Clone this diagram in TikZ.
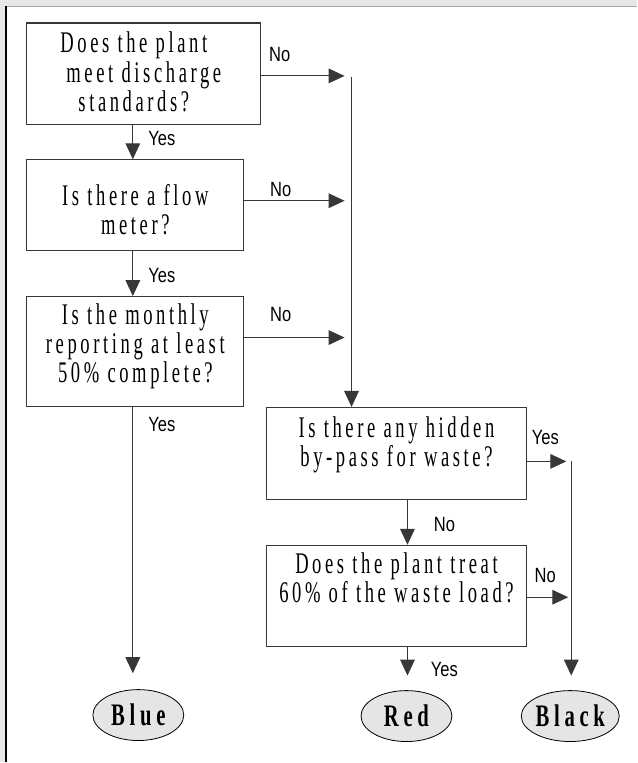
\documentclass[tikz,border=0pt]{standalone}
\usepackage{fontspec}
\setmainfont{Liberation Serif}
\newfontfamily\domandafont[FakeStretch=0.62,LetterSpace=12]{Liberation Serif}
\newfontfamily\esitofont[FakeStretch=0.66,LetterSpace=15]{Liberation Serif}
\newfontfamily\rispostafont[FakeStretch=0.8]{Liberation Sans}
\newcommand{\domande}{\domandafont\fontsize{22.5}{21.9}\selectfont}
\newcommand{\esiti}{\esitofont\bfseries\fontsize{23.5}{23.5}\selectfont}
\newcommand{\risposte}{\rispostafont\fontsize{15.5}{16}\selectfont}
\usetikzlibrary{arrows.meta,shapes.geometric}
\definecolor{sfondo}{RGB}{230,231,233}
\definecolor{bordo}{RGB}{55,55,55}

\begin{document}
\begin{tikzpicture}[x=0.75pt,y=-0.75pt]
    % Stili
    \tikzset{
        domanda/.style={rectangle, draw=bordo, line width=0.8pt, fill=white, align=center, inner sep=1pt, font=\domande},
        esito/.style={ellipse, draw=black, line width=0.6pt, fill=gray!20, minimum width=68.25pt, minimum height=38.25pt, inner sep=0pt, font=\esiti},
        risposta/.style={inner sep=0pt, font=\risposte},
        freccia/.style={-{Triangle[length=12pt,width=11pt]}, line width=0.8pt, draw=bordo}
    }

    % Cornice
    \fill[sfondo] (0,0) rectangle (638,763);
    \fill[white] (7,7) rectangle (638,763);
    \draw[gray!70, line width=1.2pt] (6,6.5) -- (638,6.5);
    \draw[black, line width=1.5pt] (6.5,6) -- (6.5,763);

    % Domande
    \node[domanda, minimum width=175.5pt, minimum height=76.5pt] (q1) at (144,74)
        {\rule{0pt}{18.3pt}Does the plant\hspace*{15pt}\\meet discharge\hspace*{15pt}\\standards?\hspace*{15pt}\rule[-6pt]{0pt}{6pt}};
    \node[domanda, minimum width=162.75pt, minimum height=68.25pt] (q2) at (135.5,205.5)
        {\rule{0pt}{28.6pt}Is there a flow\\meter?\rule[-6pt]{0pt}{6pt}};
    \node[domanda, minimum width=162.75pt, minimum height=82.5pt] (q3) at (135.5,352)
        {\rule{0pt}{16pt}Is the monthly\\reporting at least\\50\% complete?\rule[-12.7pt]{0pt}{12.7pt}};
    \node[domanda, minimum width=195pt, minimum height=69pt] (q4) at (397,454)
        {\rule{0pt}{16pt}Is there any hidden\\by-pass for waste?\rule[-18.1pt]{0pt}{18.1pt}};
    \node[domanda, minimum width=195pt, minimum height=75.75pt] (q5) at (397,596.5)
        {\rule{0pt}{16pt}Does the plant treat\\60\% of the waste load?\rule[-27.8pt]{0pt}{27.8pt}};

    % Esiti
    \node[esito] (blue) at (138.5,716) {Blue};
    \node[esito] (red) at (407,717) {Red};
    \node[esito, minimum width=69pt] (black) at (571,717) {Black};

    % Punti di appoggio
    \coordinate (colA) at (133,0);
    \coordinate (colB) at (408,0);
    \coordinate (no1) at (345,76);
    \coordinate (no2) at (345,201);
    \coordinate (no3) at (345,338);
    \coordinate (giu) at (352,77);
    \coordinate (si4) at (567,462);
    \coordinate (dx) at (572,462);
    \coordinate (no5) at (569,598);

    % Frecce
    \draw[freccia] (q1.south -| colA) -- (q2.north -| colA);
    \draw[freccia] (q2.south -| colA) -- (q3.north -| colA);
    \draw[freccia, shorten >=12pt] (q3.south -| colA) -- (blue.north -| colA);
    \draw[freccia] (q1.east |- no1) -- (no1);
    \draw[freccia] (q2.east |- no2) -- (no2);
    \draw[freccia] (q3.east |- no3) -- (no3);
    \draw[freccia] (giu) -- (giu |- q4.north);
    \draw[freccia] (q4.south -| colB) -- (q5.north -| colB);
    \draw[freccia, shorten >=11pt] (q5.south -| colB) -- (red.north -| colB);
    \draw[freccia] (q4.east |- si4) -- (si4);
    \draw[freccia] (q5.east |- no5) -- (no5);
    \draw[freccia, shorten >=11pt] (dx) -- (dx |- black.north);

    % Risposte
    \node[risposta] (r1n) at (280,55) {No};
    \node[risposta] (r1s) at (162,139) {Yes};
    \node[risposta] (r2n) at (281,190) {No};
    \node[risposta] (r2s) at (162,276) {Yes};
    \node[risposta] (r3n) at (281,315) {No};
    \node[risposta] (r3s) at (162,425) {Yes};
    \node[risposta] (r4s) at (546,438) {Yes};
    \node[risposta] (r4n) at (445,525) {No};
    \node[risposta] (r5n) at (546,576) {No};
    \node[risposta] (r5s) at (445,670) {Yes};
\end{tikzpicture}
\end{document}
